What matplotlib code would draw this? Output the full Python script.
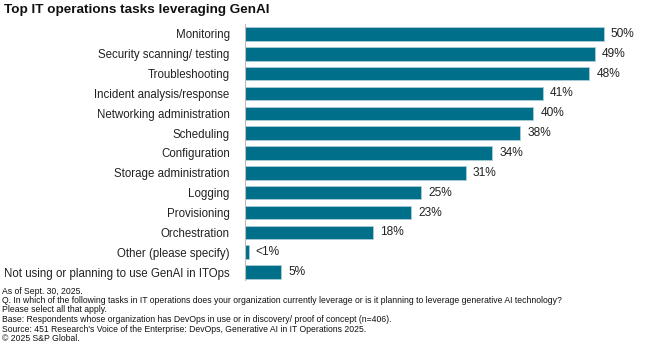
import matplotlib
matplotlib.use('Agg')
import matplotlib.pyplot as plt

plt.rcParams['font.family'] = ['Liberation Sans', 'DejaVu Sans']

tasks = ['Monitoring', 'Security scanning/ testing', 'Troubleshooting',
         'Incident analysis/response', 'Networking administration', 'Scheduling',
         'Configuration', 'Storage administration', 'Logging', 'Provisioning',
         'Orchestration', 'Other (please specify)',
         'Not using or planning to use GenAI in ITOps']
values = [50.0, 48.8, 48.0, 41.5, 40.2, 38.4, 34.5, 30.8, 24.6, 23.2, 17.8, 0.5, 5.0]
labels = ['50%', '49%', '48%', '41%', '40%', '38%', '34%', '31%', '25%', '23%',
          '18%', '<1%', '5%']

notes = ['As of Sept. 30, 2025.',
         'Q. In which of the following tasks in IT operations does your organization currently leverage or is it planning to leverage generative AI technology?',
         'Please select all that apply.',
         'Base: Respondents whose organization has DevOps in use or in discovery/ proof of concept (n=406).',
         "Source: 451 Research's Voice of the Enterprise: DevOps, Generative AI in IT Operations 2025.",
         '\u00a9 2025 S&P Global.']

W, H = 660, 357
fig = plt.figure(figsize=(W / 100, H / 100), dpi=100)
ax = fig.add_axes([245 / W, 1 - 280 / H, (W - 245) / W, 256 / H])

pos = list(range(len(tasks)))
ax.barh(pos, values, height=0.68, color='#006f8a', edgecolor='#a9cdd8', linewidth=0.6)
for p, v, t in zip(pos, values, labels):
    ax.text(v + 1.0, p, t, va='center', ha='left', fontsize=8.6, color='#222222')

ax.set_xlim(0, (W - 245) / 7.17)
ax.set_ylim(12.4, -0.5)
ax.set_yticks(pos)
ax.set_yticklabels(tasks, fontsize=8.3, color='#222222')
ax.tick_params(axis='y', length=0, pad=11)
ax.set_xticks([])
for s in ['top', 'right', 'bottom']:
    ax.spines[s].set_visible(False)
ax.spines['left'].set_color('#bbbbbb')
ax.spines['left'].set_linewidth(0.8)

fig.text(4 / W, 1 - 10 / H, 'Top IT operations tasks leveraging GenAI', fontsize=9.7,
         fontweight='bold', va='center', ha='left', color='#111111')

ys = [291, 300.5, 310, 320, 329, 338.5]
for y, t in zip(ys, notes):
    fig.text(2 / W, 1 - y / H, t, fontsize=6.2, va='center', ha='left', color='#111111')

fig.savefig('out.png', dpi=100)
